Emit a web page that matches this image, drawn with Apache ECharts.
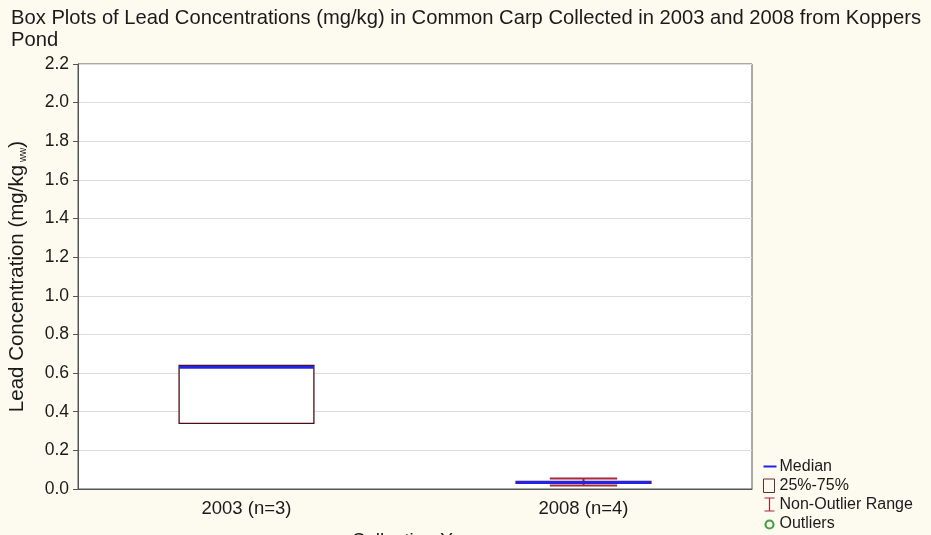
<!DOCTYPE html>
<html>
<head>
<meta charset="utf-8">
<title>Lead Concentrations in Common Carp – Koppers Pond</title>
<script src="https://cdn.jsdelivr.net/npm/echarts@6/dist/echarts.min.js"></script>
<style>
  html, body { margin: 0; padding: 0; background: #fdfbef; }
  #chart { width: 931px; height: 535px; }
</style>
</head>
<body>
<div id="chart"></div>
<script>
// Collection years and box-plot statistics (mg/kg wet weight)
const categories = ['2003 (n=3)', '2008 (n=4)'];
const whiskerMin = [0.34, 0.018];
const quartile1  = [0.34, 0.029];
const medians    = [0.63, 0.034];
const quartile3  = [0.64, 0.039];
const whiskerMax = [0.64, 0.055];
const outliers   = [];
const yTicks = { min: 0, max: 2.2, step: 0.2 };

const FONT = '"Liberation Sans", Arial, sans-serif';
const BOX_BORDER = '#4a0f14';
const MEDIAN_BLUE = '#2323e6';
const WHISKER_RED = '#a8283a';
const OUTLIER_GREEN = '#1a8a1a';

const boxFraction = 0.4;   // box width relative to category band

function halfBox(api) {
  return api.size([1, 0])[0] * boxFraction / 2;
}

const chart = echarts.init(document.getElementById('chart'));

chart.setOption({
  backgroundColor: '#fdfbef',
  animation: false,
  textStyle: { fontFamily: FONT },
  title: {
    text: 'Box Plots of Lead Concentrations (mg/kg) in Common Carp Collected in 2003 and 2008 from Koppers\nPond',
    left: 6,
    top: 2,
    textStyle: { fontFamily: FONT, fontSize: 20.2, fontWeight: 'normal', color: '#1a1a1a', lineHeight: 22 }
  },
  legend: {
    orient: 'vertical',
    left: 760,
    top: 457,
    height: 120,
    padding: 0,
    itemGap: 0,
    itemWidth: 14,
    itemHeight: 14,
    selectedMode: false,
    textStyle: { fontFamily: FONT, fontSize: 16, lineHeight: 19, color: '#1a1a1a', padding: [0, 0, 0, -2] },
    data: [
      { name: 'Median', icon: 'path://M0,0M14,14M1,6H14V8H1Z',
        itemStyle: { color: MEDIAN_BLUE, borderWidth: 0 } },
      { name: '25%-75%', icon: 'path://M0,0M14,14M1,0.5H12V14H1Z',
        itemStyle: { color: 'none', borderColor: '#6a2a2a', borderWidth: 1 } },
      { name: 'Non-Outlier Range', icon: 'path://M0,0M14,14M2,0.5H12M7,0.5V13.5M2,13.5H12',
        itemStyle: { color: 'none', borderColor: WHISKER_RED, borderWidth: 1.2 } },
      { name: 'Outliers', icon: 'path://M0,0M14,14M3,8a4,4 0 1,0 8,0a4,4 0 1,0 -8,0Z',
        itemStyle: { color: 'none', borderColor: OUTLIER_GREEN, borderWidth: 2.2 } }
    ]
  },
  grid: {
    left: 78,
    right: 179,
    top: 64,
    bottom: 46,
    outerBoundsMode: 'none',
    containLabel: false,
    show: true,
    backgroundColor: '#ffffff',
    borderColor: '#555555',
    borderWidth: 1
  },
  xAxis: {
    type: 'category',
    data: categories,
    boundaryGap: true,
    name: 'Collection Year',
    nameLocation: 'middle',
    nameGap: 42,
    nameTextStyle: { fontFamily: FONT, fontSize: 19, color: '#1a1a1a' },
    axisLine: { lineStyle: { color: '#555555', width: 1 } },
    axisTick: { alignWithLabel: true, inside: true, length: 6, lineStyle: { color: '#555555' } },
    axisLabel: { fontFamily: FONT, fontSize: 18.5, color: '#1a1a1a', margin: 10 },
    splitLine: { show: false }
  },
  yAxis: {
    type: 'value',
    min: yTicks.min,
    max: yTicks.max,
    interval: yTicks.step,
    name: '{a|Lead Concentration (mg/kg}{s| ww}{a|)}',
    nameLocation: 'middle',
    nameGap: 50,
    nameRotate: 90,
    nameTextStyle: {
      rich: {
        a: { fontFamily: FONT, fontSize: 20.5, color: '#1a1a1a' },
        s: { fontFamily: FONT, fontSize: 10, color: '#1a1a1a', verticalAlign: 'bottom', padding: [10, 0, 0, 0] }
      }
    },
    axisLine: { show: true, lineStyle: { color: '#555555' } },
    axisTick: { show: true, length: 5, lineStyle: { color: '#555555' } },
    axisLabel: {
      fontFamily: FONT, fontSize: 17.5, color: '#1a1a1a', margin: 9,
      formatter: v => v.toFixed(1)
    },
    splitLine: { show: true, lineStyle: { color: '#dcdcdc', width: 1 } }
  },
  series: [
    {
      // whiskers: vertical stem and half-width caps, drawn only where they reach past the box
      name: 'Non-Outlier Range',
      type: 'custom',
      z: 3,
      data: categories.map((c, i) => [i, whiskerMin[i], quartile1[i], quartile3[i], whiskerMax[i]]),
      renderItem: function (params, api) {
        const i = api.value(0);
        const hw = halfBox(api) / 2;
        const pMin = api.coord([i, api.value(1)]);
        const pQ1 = api.coord([i, api.value(2)]);
        const pQ3 = api.coord([i, api.value(3)]);
        const pMax = api.coord([i, api.value(4)]);
        const style = { stroke: WHISKER_RED, lineWidth: 2, fill: null };
        const children = [];
        if (api.value(4) > api.value(3)) {
          children.push({ type: 'line', shape: { x1: pMax[0], y1: pMax[1], x2: pQ3[0], y2: pQ3[1] }, style: style });
          children.push({ type: 'line', shape: { x1: pMax[0] - hw, y1: pMax[1], x2: pMax[0] + hw, y2: pMax[1] }, style: style });
        }
        if (api.value(1) < api.value(2)) {
          children.push({ type: 'line', shape: { x1: pMin[0], y1: pMin[1], x2: pQ1[0], y2: pQ1[1] }, style: style });
          children.push({ type: 'line', shape: { x1: pMin[0] - hw, y1: pMin[1], x2: pMin[0] + hw, y2: pMin[1] }, style: style });
        }
        return { type: 'group', children: children };
      }
    },
    {
      // interquartile boxes
      name: '25%-75%',
      type: 'custom',
      z: 4,
      data: categories.map((c, i) => [i, quartile1[i], quartile3[i]]),
      renderItem: function (params, api) {
        const i = api.value(0);
        const hw = halfBox(api);
        const p1 = api.coord([i, api.value(1)]);
        const p3 = api.coord([i, api.value(2)]);
        return {
          type: 'rect',
          shape: { x: p1[0] - hw, y: p3[1], width: hw * 2, height: p1[1] - p3[1] },
          style: { fill: '#ffffff', stroke: BOX_BORDER, lineWidth: 1.3 }
        };
      }
    },
    {
      // medians
      name: 'Median',
      type: 'custom',
      z: 5,
      data: categories.map((c, i) => [i, medians[i]]),
      renderItem: function (params, api) {
        const i = api.value(0);
        const hw = halfBox(api);
        const p = api.coord([i, api.value(1)]);
        return {
          type: 'line',
          shape: { x1: p[0] - hw, y1: p[1], x2: p[0] + hw, y2: p[1] },
          style: { stroke: MEDIAN_BLUE, lineWidth: 3 }
        };
      }
    },
    {
      name: 'Outliers',
      type: 'scatter',
      z: 6,
      symbol: 'circle',
      symbolSize: 8,
      itemStyle: { color: 'none', borderColor: OUTLIER_GREEN, borderWidth: 2 },
      data: outliers
    }
  ]
});
</script>
</body>
</html>
